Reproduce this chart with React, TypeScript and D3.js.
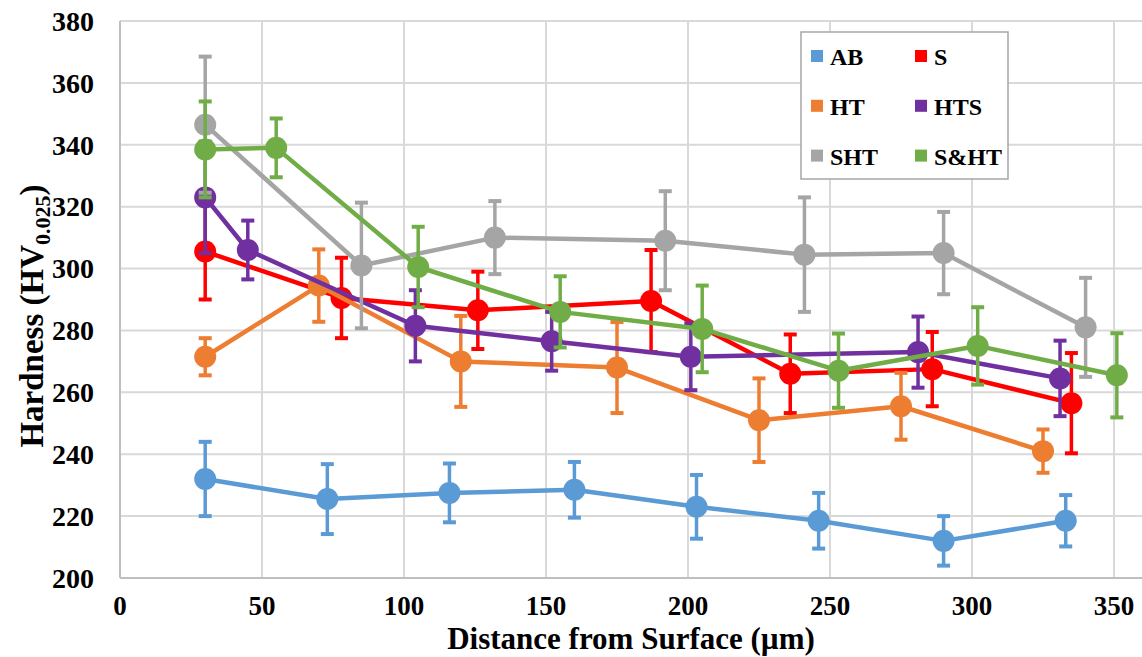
import React from "react";
import * as d3 from "d3";

const seriesNames = ["AB", "S", "HT", "HTS", "SHT", "S&HT"];
const seriesColors = ["#5B9BD5", "#FF0000", "#ED7D31", "#7030A0", "#A5A5A5", "#70AD47"];

const abX = [30, 73, 116, 160, 203, 246, 290, 333];
const abY = [232, 225.5, 227.5, 228.5, 223, 218.5, 212, 218.5];
const abErr = [12, 11.3, 9.5, 9, 10.3, 9, 8, 8.3];

const sX = [30, 78, 126, 187, 236, 286, 335];
const sY = [305.5, 290.5, 286.5, 289.5, 266, 267.5, 256.5];
const sErr = [15.5, 13, 12.5, 16.5, 12.7, 12, 16.2];

const htX = [30, 70, 120, 175, 225, 275, 325];
const htY = [271.5, 294.5, 270, 268, 251, 255.5, 241];
const htErr = [6, 11.7, 14.7, 14.7, 13.5, 10.8, 7];

const htsX = [30, 45, 104, 152, 201, 281, 331];
const htsY = [323, 306, 281.5, 276.5, 271.5, 273, 264.5];
const htsErr = [18, 9.5, 11.5, 9.5, 10.8, 11.5, 12.2];

const shtX = [30, 85, 132, 192, 241, 290, 340];
const shtY = [346.5, 301, 310, 309, 304.5, 305, 281];
const shtErr = [22, 20.3, 11.8, 16, 18.5, 13.3, 16];

const shX = [30, 55, 105, 155, 205, 253, 302, 351];
const shY = [338.5, 339, 300.5, 286, 280.5, 267, 275, 265.5];
const shErr = [15.5, 9.5, 13, 11.5, 14, 12, 12.5, 13.6];

const xTicks = [0, 50, 100, 150, 200, 250, 300, 350];
const yTicks = [200, 220, 240, 260, 280, 300, 320, 340, 360, 380];

const seriesX = [abX, sX, htX, htsX, shtX, shX];
const seriesY = [abY, sY, htY, htsY, shtY, shY];
const seriesErr = [abErr, sErr, htErr, htsErr, shtErr, shErr];

const W = 1142;
const H = 657;
const FONT = "'Liberation Serif', 'Times New Roman', serif";

export default function App() {
  const x = d3.scaleLinear().domain([0, 360]).range([120, 1142.4]);
  const y = d3.scaleLinear().domain([200, 380]).range([578, 21]);
  const line = d3
    .line<[number, number]>()
    .x((d) => x(d[0]))
    .y((d) => y(d[1]));

  const series = seriesNames.map((name, i) => ({
    name,
    color: seriesColors[i],
    pts: seriesX[i].map((xv, j) => ({ x: xv, y: seriesY[i][j], e: seriesErr[i][j] })),
  }));

  const legendItems = [
    { i: 0, col: 0, row: 0 },
    { i: 1, col: 1, row: 0 },
    { i: 2, col: 0, row: 1 },
    { i: 3, col: 1, row: 1 },
    { i: 4, col: 0, row: 2 },
    { i: 5, col: 1, row: 2 },
  ];

  return (
    <svg
      width={W}
      height={H}
      style={{ position: "absolute", left: 0, top: 0, background: "#fff" }}
      fontFamily={FONT}
    >
      <rect x={0} y={0} width={W} height={H} fill="#fff" />
      {/* gridlines */}
      {yTicks.map((t) => (
        <line key={"gy" + t} x1={x(0)} x2={W} y1={y(t)} y2={y(t)} stroke="#d9d9d9" strokeWidth={2} />
      ))}
      {xTicks.map((t) => (
        <line key={"gx" + t} x1={x(t)} x2={x(t)} y1={y(380)} y2={y(200)} stroke="#d9d9d9" strokeWidth={2} />
      ))}
      {/* axes */}
      <line x1={x(0)} x2={x(0)} y1={y(380)} y2={y(200)} stroke="#bfbfbf" strokeWidth={2} />
      <line x1={x(0)} x2={W} y1={y(200)} y2={y(200)} stroke="#bfbfbf" strokeWidth={2} />

      {/* tick labels */}
      {yTicks.map((t) => (
        <text
          key={"ty" + t}
          x={94}
          y={y(t)}
          dy="0.35em"
          textAnchor="end"
          fontSize={28}
          fontWeight="bold"
          fill="#000"
        >
          {t}
        </text>
      ))}
      {xTicks.map((t) => (
        <text key={"tx" + t} x={x(t)} y={615} textAnchor="middle" fontSize={27} fontWeight="bold" fill="#000">
          {t}
        </text>
      ))}

      {/* axis titles */}
      <text x={631} y={649} textAnchor="middle" fontSize={31} fontWeight="bold" fill="#000">
        Distance from Surface (µm)
      </text>
      <text
        transform="translate(43,316) rotate(-90)"
        textAnchor="middle"
        fontSize={33}
        fontWeight="bold"
        fill="#000"
      >
        Hardness (HV
        <tspan fontSize={22} dy={7}>
          0.025
        </tspan>
        <tspan dy={-7}>)</tspan>
      </text>

      {/* series */}
      {series.map((s) => (
        <g key={s.name}>
          <path
            d={line(s.pts.map((p) => [p.x, p.y] as [number, number])) || ""}
            fill="none"
            stroke={s.color}
            strokeWidth={4.5}
            strokeLinejoin="round"
          />
          {s.pts.map((p, j) => (
            <g key={j}>
              <line x1={x(p.x)} x2={x(p.x)} y1={y(p.y + p.e)} y2={y(p.y - p.e)} stroke={s.color} strokeWidth={3.5} />
              <line x1={x(p.x) - 6.5} x2={x(p.x) + 6.5} y1={y(p.y + p.e)} y2={y(p.y + p.e)} stroke={s.color} strokeWidth={4} />
              <line x1={x(p.x) - 6.5} x2={x(p.x) + 6.5} y1={y(p.y - p.e)} y2={y(p.y - p.e)} stroke={s.color} strokeWidth={4} />
              <circle cx={x(p.x)} cy={y(p.y)} r={11} fill={s.color} />
            </g>
          ))}
        </g>
      ))}

      {/* legend */}
      <rect x={801} y={32} width={207} height={147} fill="#fff" stroke="#a6a6a6" strokeWidth={1.5} />
      {legendItems.map(({ i, col, row }) => {
        const lx = col === 0 ? 811 : 915;
        const ly = 50 + row * 49.8;
        return (
          <g key={"lg" + i}>
            <rect x={lx} y={ly} width={12} height={12} fill={seriesColors[i]} />
            <text x={lx + 19} y={ly + 15} fontSize={24} fontWeight="bold" fill="#000">
              {seriesNames[i]}
            </text>
          </g>
        );
      })}
    </svg>
  );
}
